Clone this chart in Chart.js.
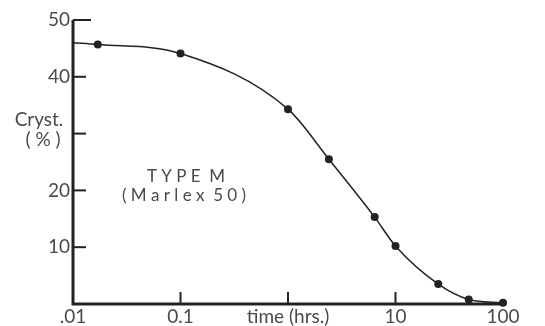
<!DOCTYPE html>
<html>
<head>
<meta charset="utf-8">
<script src="https://cdn.jsdelivr.net/npm/chart.js@4/dist/chart.umd.min.js"></script>
<style>
  html, body { margin: 0; padding: 0; background: #fff; }
  #wrap { width: 545px; height: 326px; }
</style>
</head>
<body>
<div id="wrap"><canvas id="chart"></canvas></div>
<script>
// time in hours (log scale) vs crystallinity %
const times = [0.01, 0.017, 0.1, 1, 2.4, 6.4, 10, 25, 48, 100];
const cryst = [46, 45.7, 44.1, 34.3, 25.5, 15.3, 10.2, 3.5, 0.8, 0.2];
const markers = [0, 4, 4, 4, 4, 4, 4, 4, 4, 4];

const xTicks = [0.01, 0.1, 1, 10, 100];
const xTickLabels = [".01", "0.1", "time (hrs.)", "10", "100"];
const yTicks = [0, 10, 20, 30, 40, 50];
const yTickLabels = ["", "10", "20", "", "40", "50"];

const ink = "#222";
const textColor = "#4a4a4a";
const font = "Lato, 'DejaVu Sans', sans-serif";

const points = times.map((t, i) => ({ x: t, y: cryst[i] }));

// axis lines, inward tick marks and free text
const decor = {
  id: "decor",
  afterDraw(chart) {
    const ctx = chart.ctx;
    const xs = chart.scales.x;
    const ys = chart.scales.y;
    const x0 = xs.getPixelForValue(0.01);
    const x1 = xs.getPixelForValue(100);
    const y0 = ys.getPixelForValue(0);
    const y1 = ys.getPixelForValue(50);
    ctx.save();
    ctx.strokeStyle = ink;
    ctx.lineWidth = 3;
    ctx.beginPath();
    ctx.moveTo(x0, y1);
    ctx.lineTo(x0, y0);
    ctx.lineTo(x1 + 2, y0);
    ctx.stroke();

    ctx.lineWidth = 2;
    yTicks.forEach((v) => {
      if (v === 0) return;
      const py = ys.getPixelForValue(v);
      ctx.beginPath();
      ctx.moveTo(x0, py);
      ctx.lineTo(x0 + (v === 50 ? 18 : 13), py);
      ctx.stroke();
    });
    [0.1, 1, 10].forEach((v) => {
      const px = xs.getPixelForValue(v);
      ctx.beginPath();
      ctx.moveTo(px, y0);
      ctx.lineTo(px, y0 - 12);
      ctx.stroke();
    });

    ctx.fillStyle = textColor;
    ctx.font = "19px " + font;
    ctx.textAlign = "center";
    ctx.textBaseline = "middle";
    ctx.fillText("Cryst.", 39, 120);
    ctx.fillText("( % )", 43, 140);
    ctx.font = "17px " + font;
    ctx.fillText("T Y P E  M", 186, 177);
    ctx.fillText("( M a r l e x  5 0 )", 184, 196);
    ctx.restore();
  }
};

new Chart(document.getElementById("chart"), {
  type: "line",
  data: {
    datasets: [
      {
        data: points,
        borderColor: ink,
        borderWidth: 1.5,
        backgroundColor: ink,
        pointRadius: markers,
        pointBorderWidth: 0,
        cubicInterpolationMode: "monotone",
        clip: false,
      },
    ],
  },
  options: {
    responsive: true,
    maintainAspectRatio: false,
    animation: false,
    layout: { padding: { top: 20, right: 42, left: 0, bottom: 0 } },
    plugins: { legend: { display: false }, tooltip: { enabled: false } },
    scales: {
      x: {
        type: "logarithmic",
        min: 0.01,
        max: 100,
        afterBuildTicks: (scale) => {
          scale.ticks = xTicks.map((v) => ({ value: v }));
        },
        afterFit: (scale) => {
          scale.height = 22;
        },
        grid: { display: false, drawTicks: false },
        border: { display: false },
        ticks: {
          autoSkip: false,
          maxRotation: 0,
          padding: 1,
          color: textColor,
          font: { family: font, size: 19 },
          callback: (value) => {
            const i = xTicks.indexOf(value);
            return i >= 0 ? xTickLabels[i] : "";
          },
        },
      },
      y: {
        min: 0,
        max: 50,
        afterBuildTicks: (scale) => {
          scale.ticks = yTicks.map((v) => ({ value: v }));
        },
        afterFit: (scale) => {
          scale.width = 73;
        },
        grid: { display: false, drawTicks: false },
        border: { display: false },
        ticks: {
          padding: 3,
          color: textColor,
          font: { family: font, size: 19 },
          callback: (value) => {
            const i = yTicks.indexOf(value);
            return i >= 0 ? yTickLabels[i] : "";
          },
        },
      },
    },
  },
  plugins: [decor],
});
</script>
</body>
</html>
